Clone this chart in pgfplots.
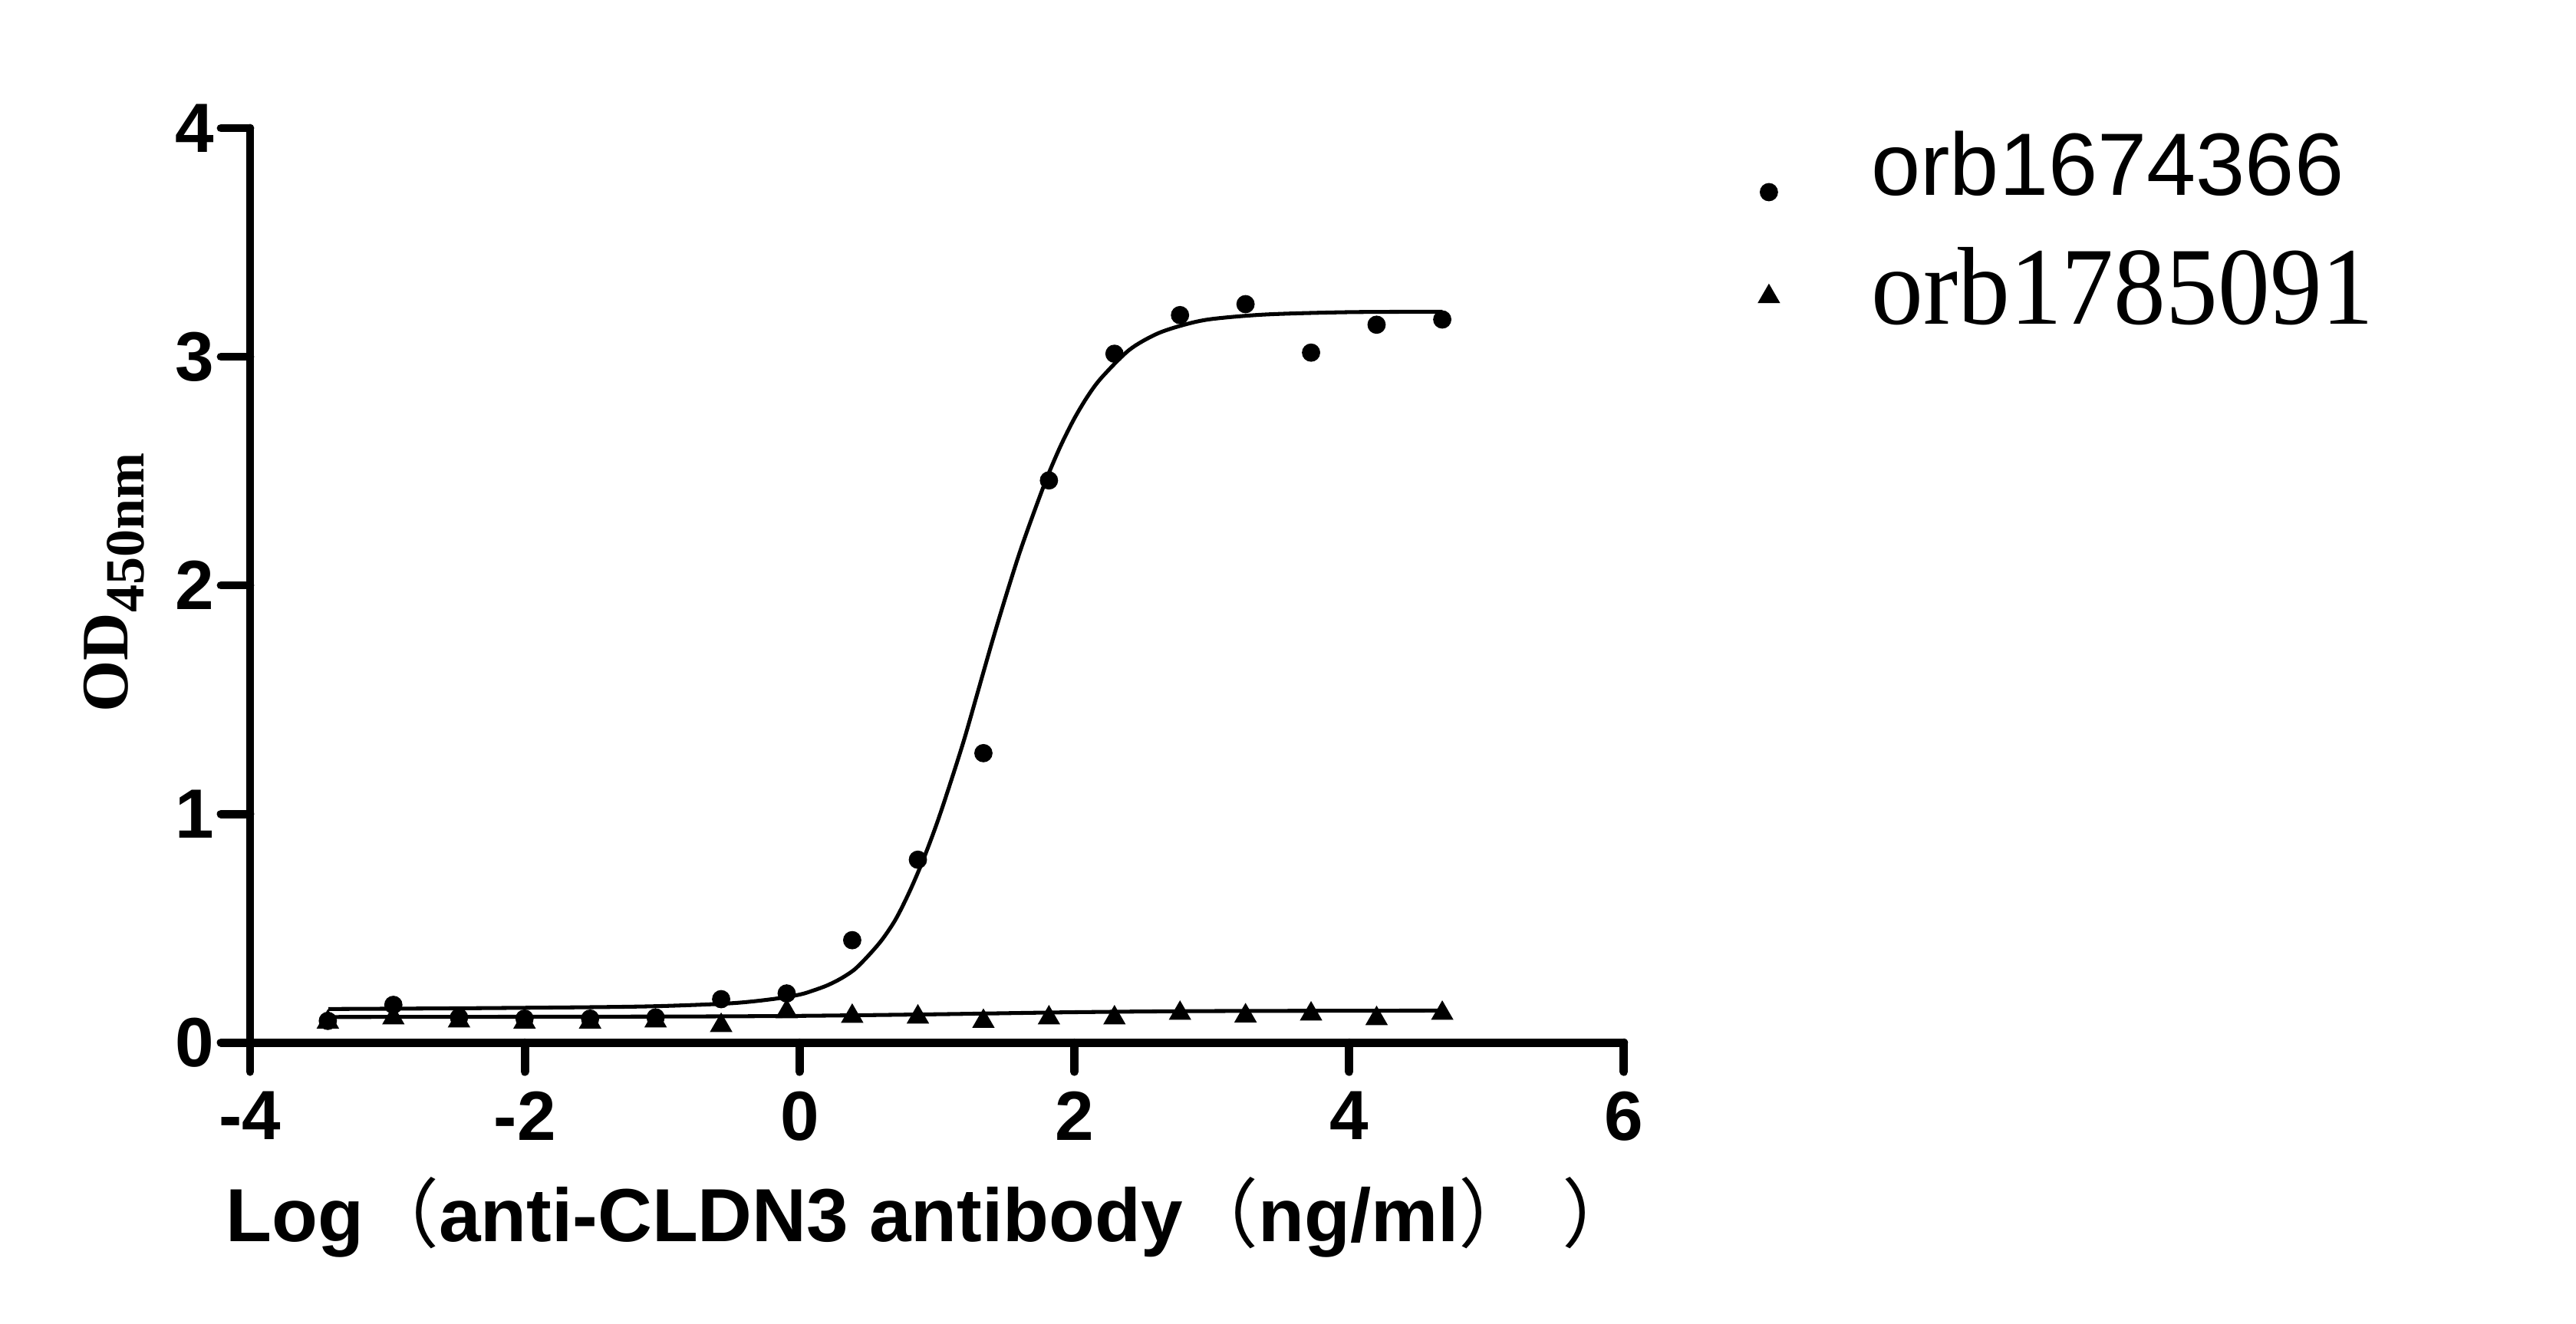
\documentclass[border=0pt]{standalone}
\usepackage{fontspec}
\setmainfont{Liberation Sans}
\newfontfamily\sans{Liberation Sans}
\newfontfamily\serif{Liberation Serif}
\newfontfamily\cjk{Noto Sans CJK SC}
\usepackage{graphicx}
\usepackage{pgfplots}
\pgfplotsset{compat=1.18}

\begin{document}
\begin{tikzpicture}
\useasboundingbox (0,0) rectangle (465.6pt,239.2pt);
\begin{axis}[
  at={(45.2pt,50.75pt)}, anchor=south west,
  scale only axis, width=248.3pt, height=165.3pt,
  xmin=-4, xmax=6, ymin=0, ymax=4,
  axis lines=left,
  axis line style={-, line width=1.5pt, line cap=round},
  xtick={-4,-2,0,2,4,6}, xticklabels={-4,-2,0,2,4,6},
  ytick={0,1,2,3,4}, yticklabels={0,1,2,3,4},
  tick align=outside, major tick length=5.27pt,
  tick style={black, line width=1.5pt, line cap=round},
  tick label style={font=\sans\fontsize{12.6}{14}\selectfont\bfseries, inner sep=0pt},
  xticklabel style={yshift=-3.4pt},
  yticklabel style={xshift=-1pt},
  xlabel={\sans\fontsize{13.6}{16}\selectfont\bfseries Log{\cjk\mdseries （}anti-CLDN3 antibody{\cjk\mdseries （}ng/ml{\cjk\mdseries ）}\hspace{5.1pt}{\cjk\mdseries ）}},
  xlabel style={at={(axis description cs:-0.0185,-0.2175)}, anchor=base west, inner sep=0pt},
  ylabel={\serif\bfseries\fontsize{12}{14}\selectfont OD\raisebox{-2.8pt}{\fontsize{10}{12}\selectfont 450nm}},
  ylabel style={at={(axis description cs:-0.0888,0.503)}, anchor=base, inner sep=0pt},
  legend image code/.code={\path (0pt,0pt) (4pt,0pt); \draw[#1] plot coordinates {(2pt,0pt)};},
  legend style={draw=none, fill=none, inner sep=0pt,
    at={(axis description cs:1.0959,0.998)}, anchor=north west,
    column sep=16.3pt, row sep=8.5pt,
    cells={anchor=base west}, nodes={inner sep=0pt, text depth=}},
  clip=false,
]

% fitted curves
\addplot[line width=0.7pt, smooth, forget plot] coordinates {
  (-3.43,0.147) (-2.5,0.150) (-1.5,0.155) (-1.0,0.160) (-0.5,0.172)
  (-0.2,0.190) (0.0,0.210) (0.1,0.228) (0.2,0.250) (0.3,0.280)
  (0.4,0.320) (0.5,0.380) (0.6,0.450) (0.7,0.540) (0.8,0.660)
  (0.9,0.800) (1.0,0.960) (1.1,1.140) (1.2,1.330) (1.3,1.540)
  (1.4,1.750) (1.5,1.950) (1.6,2.140) (1.7,2.310) (1.8,2.470)
  (1.9,2.610) (2.0,2.730) (2.1,2.830) (2.2,2.910) (2.4,3.030)
  (2.6,3.100) (2.8,3.140) (3.0,3.165) (3.4,3.185) (4.0,3.195) (4.68,3.197)
};
\addplot[line width=0.7pt, smooth, forget plot] coordinates {
  (-3.43,0.112) (-1.0,0.114) (0.0,0.117) (1.0,0.124) (2.0,0.133)
  (3.0,0.138) (4.68,0.140)
};

\addplot[only marks, mark=*, mark size=1.5pt, mark options={line width=0.3pt}] coordinates {
  (-3.434,0.095) (-2.957,0.165) (-2.479,0.110) (-2.002,0.105) (-1.525,0.105)
  (-1.048,0.110) (-0.571,0.190) (-0.094,0.215) (0.383,0.448) (0.861,0.800)
  (1.338,1.266) (1.815,2.459) (2.292,3.013) (2.769,3.182) (3.246,3.230)
  (3.723,3.018) (4.200,3.140) (4.678,3.163)
};
\addlegendentry{\fontspec{Liberation Sans}\fontsize{16}{19}\selectfont\raisebox{-0.55pt}{orb1674366}}

\addplot[only marks, mark=triangle*, mark size=2.05pt, mark options={line width=0.3pt}] coordinates {
  (-3.434,0.090) (-2.957,0.108) (-2.479,0.095) (-2.002,0.090) (-1.525,0.090)
  (-1.048,0.095) (-0.571,0.075) (-0.094,0.135) (0.383,0.115) (0.861,0.112)
  (1.338,0.093) (1.815,0.108) (2.292,0.108) (2.769,0.128) (3.246,0.117)
  (3.723,0.125) (4.200,0.105) (4.678,0.128)
};
\addlegendentry{\serif\mdseries\fontsize{20}{24}\selectfont\raisebox{-5pt}{\scalebox{0.94}[1]{orb1785091}}}

\end{axis}
\end{tikzpicture}
\end{document}
